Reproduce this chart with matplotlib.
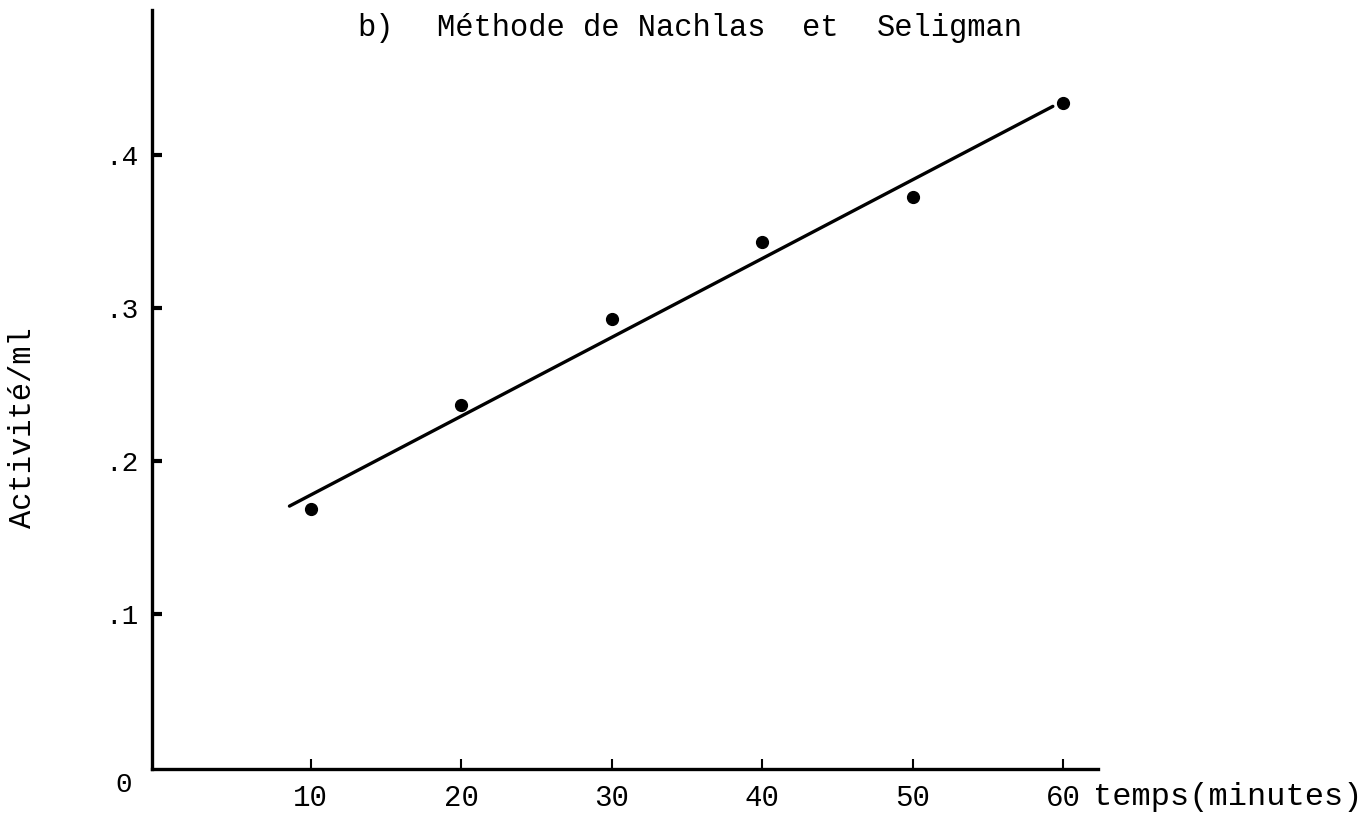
import matplotlib.pyplot as plt

# activity measured every 10 minutes
temps = [10, 20, 30, 40, 50, 60]
activite = [0.169, 0.237, 0.293, 0.343, 0.3725, 0.434]

# straight line drawn through the points
droite_x = [8.6, 59.3]
droite_y = [0.1706, 0.432]

yticks = [0.1, 0.2, 0.3, 0.4]
ytick_labels = [".1", ".2", ".3", ".4"]
xticks = [10, 20, 30, 40, 50, 60]
xtick_labels = ["10", "20", "30", "40", "50", "60"]

plt.rcParams['font.family'] = ['Liberation Mono', 'DejaVu Sans Mono']

W, H = 1372, 815
fig = plt.figure(figsize=(W / 100, H / 100), dpi=100)
ax = fig.add_axes([152 / W, 1 - 769 / H, (1098 - 152) / W, (769 - 10) / H])

ax.plot(droite_x, droite_y, color="black", lw=2.4, solid_capstyle="round")
ax.plot(temps, activite, "o", color="black", ms=8.5)

ax.set_xlim(-0.53, 62.3)
ax.set_ylim(-0.0013, 0.495)

for s in ["top", "right"]:
    ax.spines[s].set_visible(False)
for s in ["left", "bottom"]:
    ax.spines[s].set_linewidth(2.4)

ax.set_yticks(yticks)
ax.set_yticklabels(ytick_labels, fontsize=20)
ax.set_xticks(xticks)
ax.set_xticklabels(xtick_labels, fontsize=21)
ax.tick_params(axis="y", direction="in", length=7, width=3, pad=10)
ax.tick_params(axis="x", direction="in", length=7, width=1.5, pad=11)

# origin label and axis titles
fig.text(124 / W, 1 - 785 / H, "0", fontsize=20, ha="center", va="center")
fig.text(1093 / W, 1 - 797 / H, "temps(minutes)", fontsize=23, ha="left", va="center")
fig.text(23 / W, 1 - 428 / H, "Activité/ml", fontsize=22, rotation=90,
         ha="center", va="center")

# heading
fig.text(357 / W, 1 - 28 / H, "b)", fontsize=22, ha="left", va="center")
fig.text(437 / W, 1 - 28 / H, "Méthode de Nachlas", fontsize=22, ha="left", va="center")
fig.text(802 / W, 1 - 28 / H, "et", fontsize=22, ha="left", va="center")
fig.text(877 / W, 1 - 28 / H, "Seligman", fontsize=22, ha="left", va="center")

fig.savefig("out.png", dpi=100)
